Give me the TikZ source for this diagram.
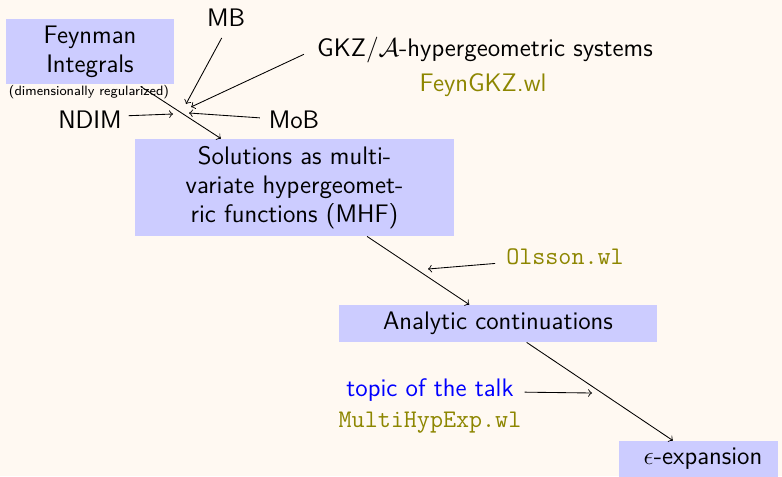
\documentclass[tikz,border=0pt]{standalone}
\usepackage{fontspec}
\usetikzlibrary{calc}
\definecolor{bgcream}{RGB}{255,249,242}
\newcommand\pxu{0.4657pt}
\begin{document}
\begin{tikzpicture}[x=0.016368cm,y=-0.016368cm,
  font=\sffamily\fontsize{11.8}{13.4}\selectfont,
  box/.style={fill=blue!20,inner sep=0pt,align=center},
  lbl/.style={inner sep=2pt},
  ttl/.style={inner sep=2pt,text=olive,font=\ttfamily\fontsize{11.8}{13.4}\selectfont},
  conn/.style={->,line width=0.4pt}]
\useasboundingbox[fill=bgcream] (0,0) rectangle (782,476);
% boxes
\node[box,minimum width=168*\pxu,minimum height=65*\pxu] (fi) at (90,51.5) {Feynman\\Integrals};
\node[lbl,font=\sffamily\fontsize{6.3}{7}\selectfont] (dr) at (89,92) {(dimensionally regularized)};
\node[box,minimum width=319*\pxu,minimum height=97*\pxu] (sol) at (294.5,187.5) {Solutions as multi-\\variate hypergeomet-\\ric functions (MHF)};
\node[box,minimum width=318*\pxu,minimum height=37*\pxu] (ac) at (498,323.5) {Analytic continuations};
\node[box,minimum width=159*\pxu,minimum height=40*\pxu] (eps) at (698.5,461) {};
\node[lbl] (epst) at (703,459) {$\epsilon$-expansion};
% labels
\node[lbl] (mb) at (226,18) {MB};
\node[lbl] (gkz) at (485,50) {GKZ$/\mathcal{A}$-hypergeometric systems};
\node[lbl,text=olive] (fgkz) at (483,85) {FeynGKZ.wl};
\node[lbl] (ndim) at (90,120) {NDIM};
\node[lbl] (mob) at (294,120) {MoB};
\node[ttl] (ol) at (565,257) {Olsson.wl};
\node[lbl,text=blue] (topic) at (430,390) {topic of the talk};
\node[ttl] (mhe) at (430,423) {MultiHypExp.wl};
% arrow end points
\coordinate (tmb) at (186,104);
\coordinate (tgkz) at (191,107);
\coordinate (tmob) at (189,113);
\coordinate (tndim) at (173,114);
\coordinate (tol) at (428,269);
\coordinate (ttopic) at (592,393);
% connectors
\draw[conn] ([xshift=-2pt,yshift=-3pt]mb.south) -- (tmb);
\draw[conn] ([xshift=-4pt,yshift=-2pt]gkz.west) -- (tgkz);
\draw[conn] ([xshift=-2pt,yshift=1pt]mob.west) -- (tmob);
\draw[conn] ([xshift=1pt,yshift=2pt]ndim.east) -- (tndim);
\draw[conn] ($(fi.south)!0.6!(fi.south east)+(0,2)$) -- ($(sol.north west)!0.27!(sol.north east)$);
\draw[conn] ($(sol.south west)!0.727!(sol.south east)$) -- ($(ac.north west)!0.41!(ac.north east)$);
\draw[conn] ([xshift=-3pt,yshift=-3pt]ol.west) -- (tol);
\draw[conn] ($(ac.south west)!0.59!(ac.south east)$) -- ($(eps.north west)!0.34!(eps.north east)$);
\draw[conn] ([xshift=3pt,yshift=-1pt]topic.east) -- (ttopic);
\end{tikzpicture}
\end{document}
